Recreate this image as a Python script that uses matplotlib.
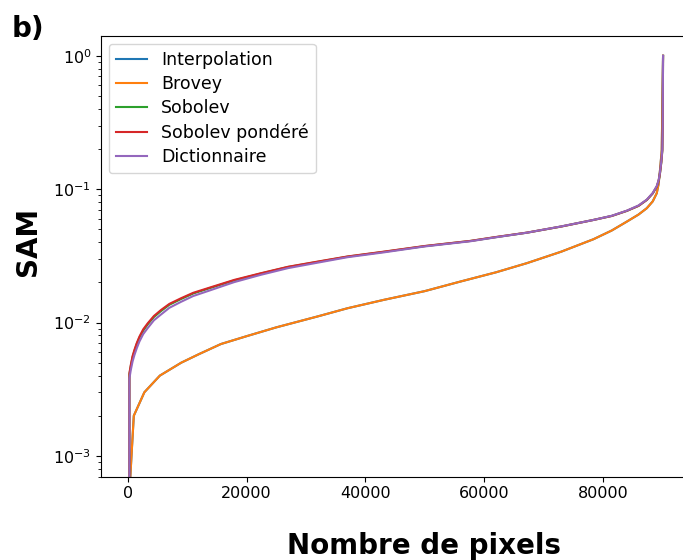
import numpy as np
import matplotlib
matplotlib.use("Agg")
import matplotlib.pyplot as plt

# sorted SAM per pixel
upper_x = [0, 270, 500, 800, 1110, 1500, 1950, 2600, 3360, 4400, 5600, 7000,
           8960, 11000, 13450, 17920, 22400, 27000, 31930, 37000, 43130, 50000,
           57700, 62000, 67230, 73000, 78420, 81500, 84030, 86000, 87400, 88400,
           89080, 89400, 89630, 89850, 90020, 90080, 90140]
sob_pond = [0.0, 0.00417, 0.0048, 0.0056, 0.00623, 0.0070, 0.00783, 0.0089,
            0.00988, 0.0112, 0.01243, 0.0138, 0.01521, 0.0167, 0.01808, 0.02088,
            0.02343, 0.0262, 0.02863, 0.0313, 0.03402, 0.0375, 0.04095, 0.0438,
            0.04725, 0.0525, 0.0588, 0.063, 0.0688, 0.075, 0.0831, 0.093,
            0.1046, 0.116, 0.1325, 0.16, 0.197, 0.3, 1.0]
sobolev = [0.0, 0.0041, 0.0047, 0.0055, 0.0061, 0.0069, 0.0077, 0.0087,
           0.0097, 0.0110, 0.0122, 0.0136, 0.0150, 0.0165, 0.0179, 0.0207,
           0.0233, 0.0261, 0.0285, 0.0312, 0.0339, 0.0374, 0.0409, 0.0437,
           0.0472, 0.0525, 0.0588, 0.0630, 0.0687, 0.0749, 0.0830, 0.0929,
           0.1045, 0.1158, 0.1320, 0.159, 0.195, 0.3, 1.0]
dictionnaire = [0.0, 0.0038, 0.0044, 0.0051, 0.0057, 0.0064, 0.0072, 0.0082,
                0.0091, 0.0104, 0.0115, 0.0129, 0.0143, 0.0158, 0.0172, 0.0201,
                0.0228, 0.0256, 0.0281, 0.0309, 0.0336, 0.0372, 0.0407, 0.0436,
                0.0472, 0.0526, 0.0588, 0.0632, 0.0690, 0.0755, 0.0835, 0.0937,
                0.1055, 0.1170, 0.1340, 0.163, 0.200, 0.3, 1.0]

low_x = [0, 430, 620, 1010, 2790, 5400, 9000, 12000, 15680, 20000, 25000, 31930,
         37000, 43130, 50000, 56020, 62000, 67230, 73000, 78420, 81500, 84030,
         86000, 87400, 88400, 89080, 89400, 89630, 89800, 89920, 90140]
brovey = [0.0, 0.0007, 0.001, 0.002, 0.003, 0.004, 0.005, 0.0058, 0.0069,
          0.0079, 0.0092, 0.0111, 0.0128, 0.0148, 0.0172, 0.0203, 0.0238,
          0.0279, 0.0340, 0.04215, 0.049, 0.0571, 0.0645, 0.072, 0.081,
          0.0933, 0.110, 0.1396, 0.17, 0.197, 1.0]
# Brovey keeps the spectral angle of the interpolated image
interpolation = list(brovey)

fig, ax = plt.subplots(figsize=(6.83, 5.6), dpi=100)
fig.subplots_adjust(left=0.148, right=1.01, bottom=0.149, top=0.936)

ax.plot(low_x, interpolation, color="#1f77b4", label="Interpolation")
ax.plot(low_x, brovey, color="#ff7f0e", label="Brovey")
ax.plot(upper_x, sobolev, color="#2ca02c", label="Sobolev")
ax.plot(upper_x, sob_pond, color="#d62728", label="Sobolev pondéré")
ax.plot(upper_x, dictionnaire, color="#9467bd", label="Dictionnaire")

ax.set_yscale("log", nonpositive="clip")
ax.set_ylim(10 ** -3.155, 10 ** 0.15)
ax.set_xlim(-4500, 94650)
ax.set_xticks([0, 20000, 40000, 60000, 80000])
ax.tick_params(labelsize=11.5)

ax.set_xlabel("Nombre de pixels", fontsize=20, fontweight="bold",
              labelpad=22, x=0.548)
ax.set_ylabel("SAM", fontsize=20, fontweight="bold", labelpad=8, y=0.533)
ax.legend(loc="upper left", fontsize=12.5, labelspacing=0.36,
          handlelength=1.8, borderaxespad=0.45)

fig.text(0.017, 0.974, "b)", fontsize=20, fontweight="bold", va="top", ha="left")

fig.savefig("out.png", dpi=100)
